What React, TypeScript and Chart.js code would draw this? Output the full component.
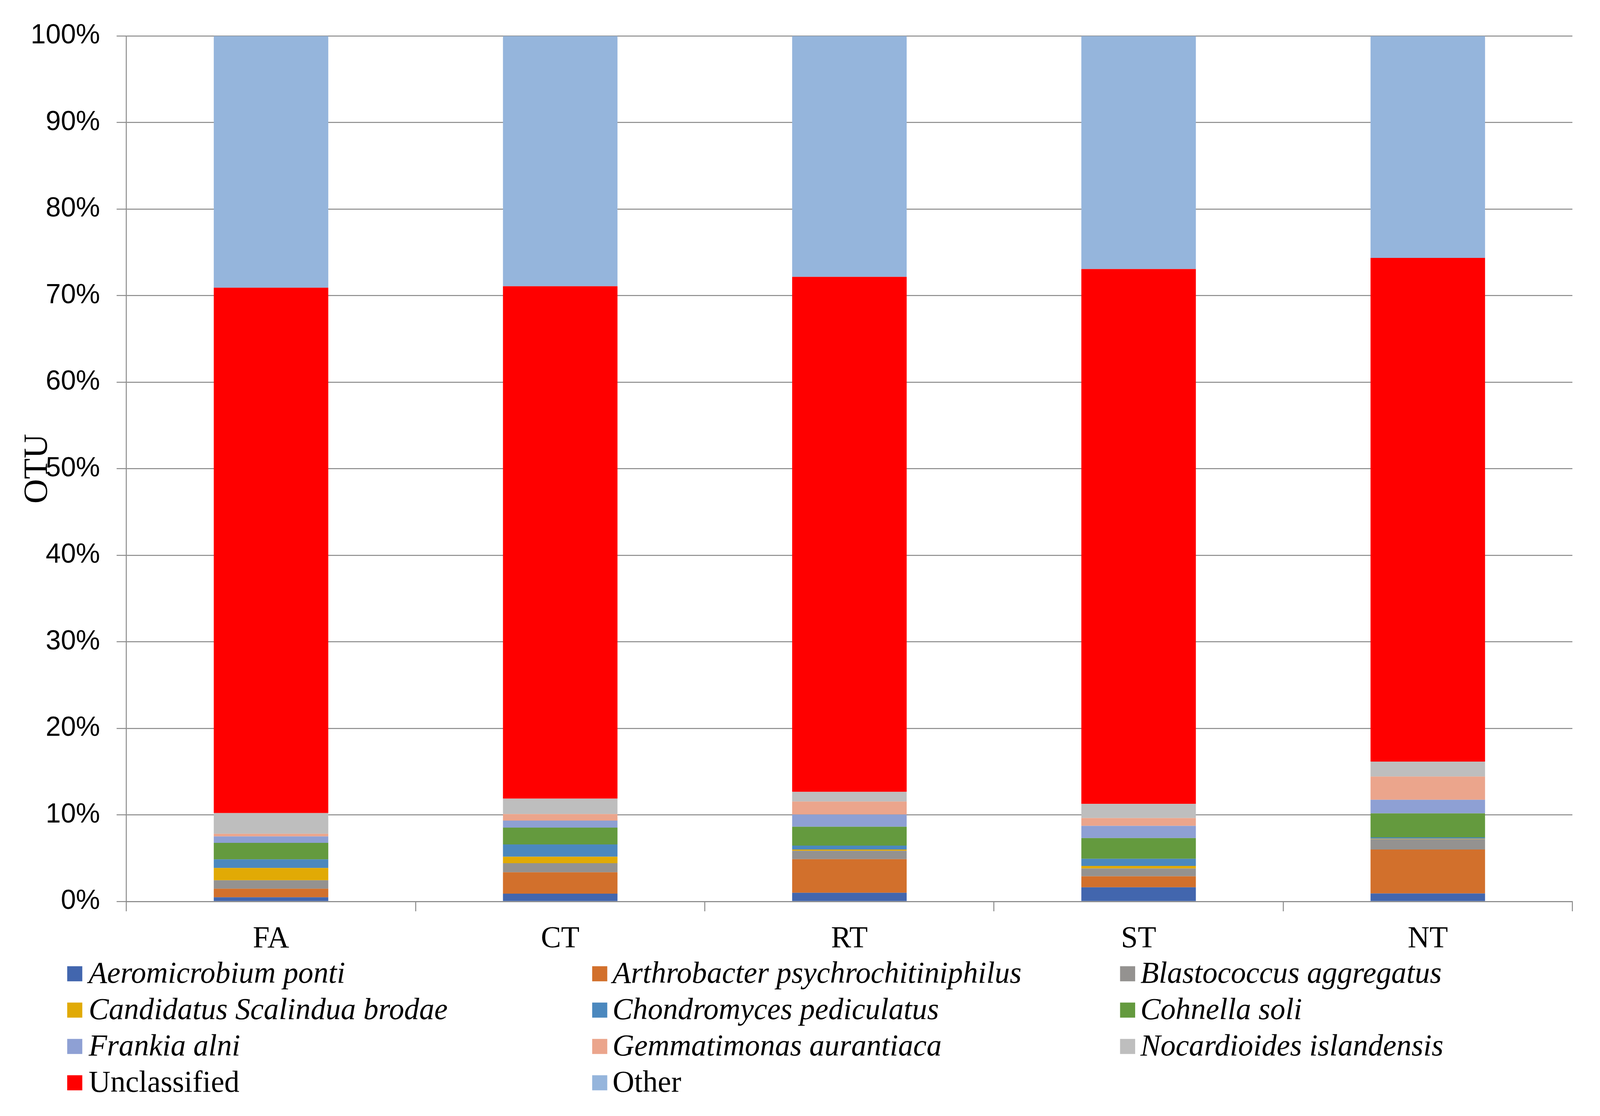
import React, { useEffect, useRef } from "react";
import { Chart, registerables } from "chart.js";

Chart.register(...registerables);

const categories = ["FA", "CT", "RT", "ST", "NT"];

const seriesNames = [
  "Aeromicrobium ponti",
  "Arthrobacter psychrochitiniphilus",
  "Blastococcus aggregatus",
  "Candidatus Scalindua brodae",
  "Chondromyces pediculatus",
  "Cohnella soli",
  "Frankia alni",
  "Gemmatimonas aurantiaca",
  "Nocardioides islandensis",
  "Unclassified",
  "Other",
];

const nonItalicNames = ["Unclassified", "Other"];

const seriesColors = [
  "#4266AE",
  "#D2702C",
  "#949290",
  "#E1AA05",
  "#4B88BE",
  "#649A3E",
  "#8EA0D4",
  "#EBA58C",
  "#BEBEBE",
  "#FF0000",
  "#95B5DC",
];

// values in % per category FA, CT, RT, ST, NT
const aeromicrobium = [0.48, 0.9, 1.0, 1.64, 0.93];
const arthrobacter = [1.0, 2.47, 3.89, 1.27, 5.08];
const blastococcus = [0.97, 1.05, 0.97, 0.9, 1.2];
const candidatus = [1.42, 0.75, 0.15, 0.3, 0.05];
const chondromyces = [1.0, 1.42, 0.45, 0.82, 0.15];
const cohnella = [1.9, 1.94, 2.17, 2.39, 2.77];
const frankia = [0.75, 0.82, 1.42, 1.42, 1.57];
const gemmatimonas = [0.3, 0.75, 1.5, 0.9, 2.69];
const nocardioides = [2.4, 1.79, 1.12, 1.64, 1.72];
const unclassified = [60.7, 59.2, 59.5, 61.8, 58.2];
const other = [29.08, 28.91, 27.83, 26.92, 25.64];

const seriesValues = [
  aeromicrobium,
  arthrobacter,
  blastococcus,
  candidatus,
  chondromyces,
  cohnella,
  frankia,
  gemmatimonas,
  nocardioides,
  unclassified,
  other,
];

const yTicks = [0, 10, 20, 30, 40, 50, 60, 70, 80, 90, 100];

const REF_W = 4404;
const REF_H = 2856;
const GRID = "#878787";
const SERIF = '"Liberation Serif", "Times New Roman", serif';
const SANS = '"Liberation Sans", Arial, sans-serif';

export default function App() {
  const ref = useRef<HTMLCanvasElement | null>(null);
  const vw = typeof window !== "undefined" ? window.innerWidth : REF_W;
  const vh = typeof window !== "undefined" ? window.innerHeight : REF_H;
  const cw = vw - 16;
  const ch = vh - 16;

  useEffect(() => {
    if (!ref.current) return;
    const sx = vw / REF_W;
    const sy = vh / REF_H;
    const s = (sx + sy) / 2;
    // reference page coords -> canvas coords
    const px = (x: number) => x * sx - 8;
    const py = (y: number) => y * sy - 8;

    const areaLeft = px(348);
    const areaRight = px(4328);
    const areaTop = py(80);
    const areaBottom = py(2307);

    const overlayPlugin = {
      id: "overlay",
      afterDraw(chart: any) {
        const ctx = chart.ctx;
        const area = chart.chartArea;
        ctx.save();
        ctx.translate(px(104), (area.top + area.bottom) / 2);
        ctx.rotate(-Math.PI / 2);
        ctx.font = `${90 * s}px ${SERIF}`;
        ctx.fillStyle = "#000";
        ctx.textAlign = "center";
        ctx.textBaseline = "middle";
        ctx.fillText("OTU", 0, 0);
        ctx.restore();

        const colSquare = [185, 1630, 3083];
        const colText = [244, 1686, 3139];
        const rowTop = 2492;
        const rowGap = 93;
        const box = 40 * s;
        ctx.save();
        ctx.textAlign = "left";
        ctx.textBaseline = "middle";
        chart.data.datasets.forEach((ds: any, i: number) => {
          const col = i % 3;
          const row = Math.floor(i / 3);
          const cy = py(rowTop + row * rowGap);
          ctx.fillStyle = ds.backgroundColor;
          ctx.fillRect(px(colSquare[col]), cy - box / 2, box, box);
          const italic = !nonItalicNames.includes(ds.label);
          ctx.font = `${italic ? "italic " : ""}${80 * s}px ${SERIF}`;
          ctx.fillStyle = "#000";
          ctx.fillText(ds.label, px(colText[col]), cy + 3 * s);
        });
        ctx.restore();
      },
    };

    const chart = new Chart(ref.current, {
      type: "bar",
      data: {
        labels: categories,
        datasets: seriesNames.map((name, i) => ({
          label: name,
          data: seriesValues[i],
          backgroundColor: seriesColors[i],
          borderWidth: 0,
          barPercentage: 0.396,
          categoryPercentage: 1,
        })),
      },
      options: {
        animation: false,
        responsive: true,
        maintainAspectRatio: false,
        layout: { padding: { top: areaTop, right: cw - areaRight, left: 0, bottom: 0 } },
        plugins: {
          legend: { display: false },
          tooltip: { enabled: false },
        },
        scales: {
          x: {
            stacked: true,
            afterFit: (scale: any) => {
              scale.height = ch - areaBottom;
            },
            grid: {
              display: true,
              drawOnChartArea: false,
              drawTicks: true,
              tickLength: 26 * s,
              color: GRID,
              lineWidth: 2.5 * s,
            },
            border: { display: true, color: GRID, width: 2.5 * s },
            ticks: {
              color: "#000",
              font: { family: SERIF, size: 80 * s },
              padding: 26 * s,
              maxRotation: 0,
            },
          },
          y: {
            stacked: true,
            min: 0,
            max: 100,
            afterFit: (scale: any) => {
              scale.width = areaLeft;
            },
            afterBuildTicks: (scale: any) => {
              scale.ticks = yTicks.map((v) => ({ value: v }));
            },
            grid: {
              color: GRID,
              lineWidth: 2.5 * s,
              tickLength: 26 * s,
              drawTicks: true,
            },
            border: { display: true, color: GRID, width: 2.5 * s },
            ticks: {
              color: "#000",
              font: { family: SANS, size: 72 * s },
              padding: 44 * s,
              callback: (v: any) => `${v}%`,
            },
          },
        },
      },
      plugins: [overlayPlugin],
    });
    return () => chart.destroy();
  }, []);

  return (
    <div style={{ width: cw, height: ch, position: "relative", overflow: "hidden" }}>
      <canvas ref={ref} />
    </div>
  );
}
